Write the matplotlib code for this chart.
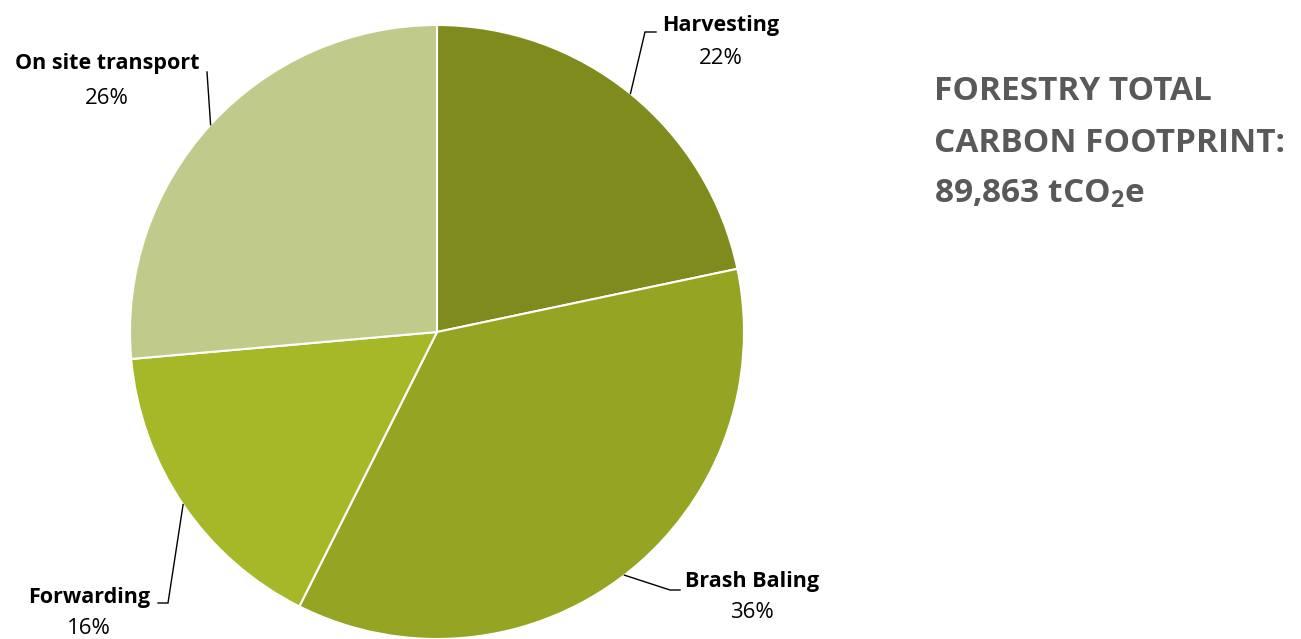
"""
Forestry carbon footprint pie chart.
"""

import numpy as np
import matplotlib

matplotlib.use("Agg")
import matplotlib.pyplot as plt

categories = ["Harvesting", "Brash Baling", "Forwarding", "On site transport"]
shares = [21.7, 35.7, 16.2, 26.4]
colors = ["#7f8b1d", "#96a424", "#a6b828", "#c0cb8b"]
total_text = "89,863"

plt.rcParams["font.family"] = ["Open Sans", "DejaVu Sans"]
plt.rcParams["mathtext.fontset"] = "custom"
plt.rcParams["mathtext.rm"] = "Open Sans"
plt.rcParams["mathtext.bf"] = "Open Sans:bold"

W, H = 1301, 639
fig = plt.figure(figsize=(W / 100, H / 100), dpi=100)

# pie centre and radius in pixels
cx, cy, r = 437, 332, 307
ax = fig.add_axes([(cx - r) / W, (H - cy - r) / H, 2 * r / W, 2 * r / H])

wedges, _ = ax.pie(
    shares,
    colors=colors,
    startangle=90,
    counterclock=False,
    radius=1,
    wedgeprops=dict(edgecolor="white", linewidth=1.5),
)
ax.set_xlim(-1, 1)
ax.set_ylim(-1, 1)
ax.set_aspect("equal")
ax.axis("off")


def px(x, y):
    # pixel position -> data coords of the pie axes
    return (x - cx) / r, (cy - y) / r


# label layout in pixels: (elbow point, line end, text centre x, name y, pct y)
layout = {
    "Harvesting": ((645, 32), (656, 32), 721, 25, 58),
    "Brash Baling": ((670, 590), (680, 590), 752, 581, 612),
    "Forwarding": ((168, 603), (158, 603), 89, 597, 628),
    "On site transport": ((207, 72), (207, 72), 107, 63, 98),
}

for w, name, pct in zip(wedges, categories, shares):
    mid = np.deg2rad((w.theta1 + w.theta2) / 2)
    sx, sy = np.cos(mid), np.sin(mid)
    elbow, end, tx, ny, py = layout[name]
    ex, ey = px(*elbow)
    fx, fy = px(*end)
    ax.plot([sx, ex, fx], [sy, ey, fy], color="black", lw=1.0,
            clip_on=False, solid_joinstyle="miter")
    x0, y0 = px(tx, ny)
    ax.text(x0, y0, name, ha="center", va="center", fontsize=15.5,
            fontweight="bold", color="black", clip_on=False)
    x1, y1 = px(tx, py)
    ax.text(x1, y1, f"{round(pct)}%", ha="center", va="center",
            fontsize=16, color="black", clip_on=False)

# total footprint block
title_lines = ["FORESTRY TOTAL", "CARBON FOOTPRINT:",
               total_text + r" tCO$_\mathbf{2}$e"]
for i, line in enumerate(title_lines):
    fig.text(934 / W, 1 - (92 + 51 * i) / H, line, ha="left", va="center",
             fontsize=24, fontweight="bold", color="#595959")

fig.savefig("out.png", dpi=100)
